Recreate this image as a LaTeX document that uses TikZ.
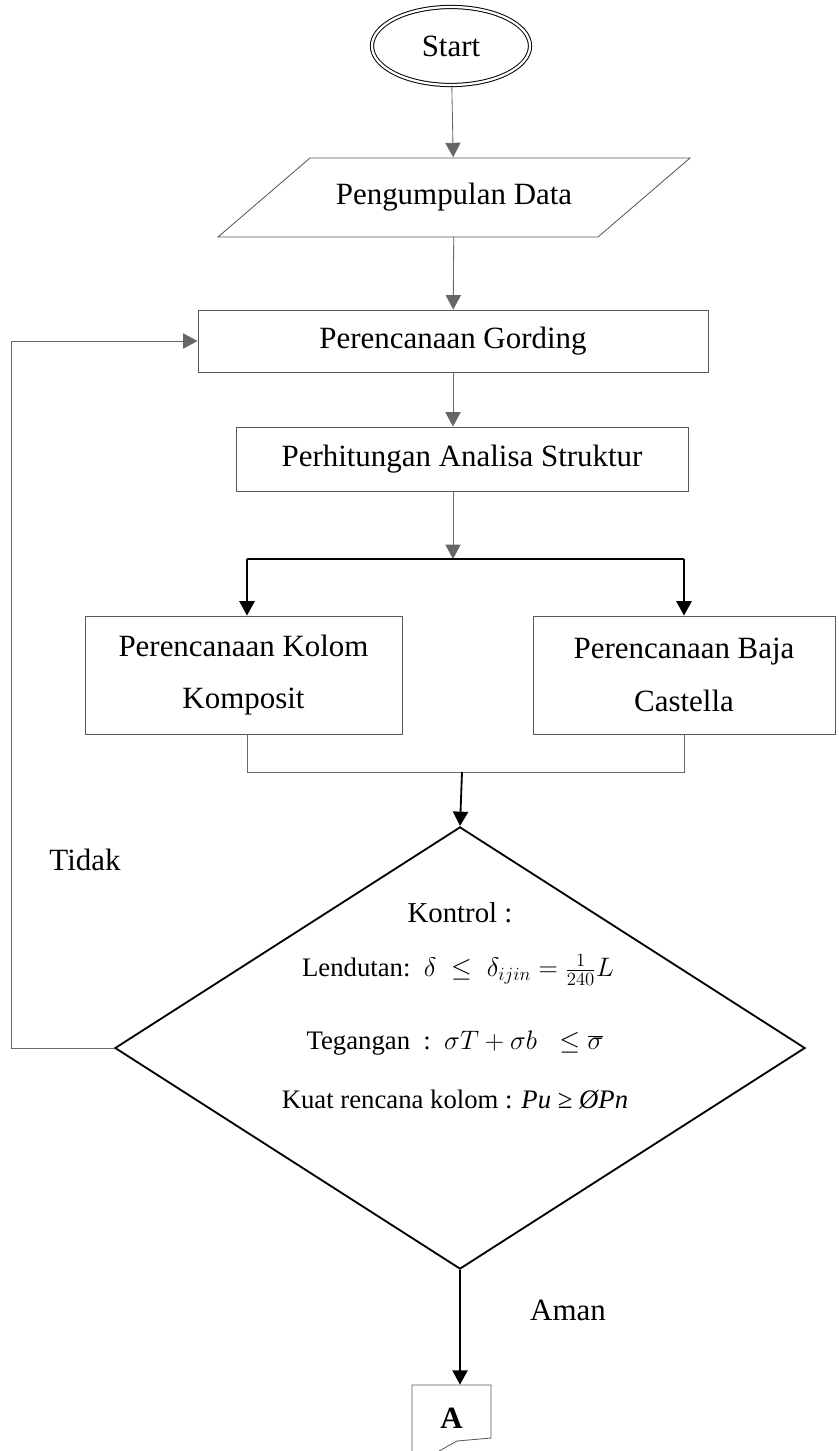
\RequirePackage{fix-cm}
\documentclass[tikz,border=0pt]{standalone}
\usepackage{fontspec}
\setmainfont{Liberation Serif}
\usetikzlibrary{shapes.geometric,arrows.meta}

\begin{document}
\begin{tikzpicture}[
    x=0.025cm, y=-0.025cm,
    every node/.style={font=\fontsize{22}{26}\selectfont},
    box/.style={draw=black!65, line width=0.6pt, rectangle, inner sep=0pt, align=center},
    formula/.style={font=\fontsize{19}{23}\selectfont, inner sep=0pt},
    thinline/.style={draw=black!60, line width=0.6pt, -{Triangle[length=0.36cm,width=0.38cm]}},
    thickline/.style={draw=black, line width=1.3pt, -{Triangle[length=0.36cm,width=0.38cm]}},
    joinline/.style={draw=black!60, line width=0.6pt}
]

% Page frame
\useasboundingbox (0,0) rectangle (838,1451);

% Start terminal
\node[draw, ellipse, double, double distance=1.6pt, line width=0.7pt,
      minimum width=3.95cm, minimum height=1.95cm] (start) at (451,46) {Start};

% Input: data collection (parallelogram)
\node[inner sep=0pt, minimum height=1.975cm] (data) at (454,197) {Pengumpulan Data};
\draw[black!65, line width=0.6pt] (218,237) -- (310,158) -- (690,158) -- (598,237) -- cycle;

% Process boxes
\node[box, minimum width=12.75cm, minimum height=1.55cm] (gording) at (453,341) {Perencanaan Gording};
\node[box, minimum width=11.3cm, minimum height=1.6cm] (analisa) at (462,459) {Perhitungan Analisa Struktur};

\node[box, minimum width=7.925cm, minimum height=2.95cm,
      font=\fontsize{22}{37.5}\selectfont] (kolom) at (243.5,675) {Perencanaan Kolom\\Komposit};
\node[box, minimum width=7.55cm, minimum height=2.95cm,
      font=\fontsize{22}{37.5}\selectfont] (castella) at (684,675) {Perencanaan Baja\\Castella};

% Decision
\node[draw, diamond, line width=1.3pt, minimum width=17.25cm, minimum height=11.05cm,
      inner sep=0pt] (kontrol) at (460,1048) {};
\node[font=\fontsize{20.5}{24}\selectfont, inner sep=0pt] (judul) at (460,913) {Kontrol :};
\node[formula] (lendutan) at (458,970) {Lendutan:\ \ $\delta\;\leq\;\delta_{ijin} = \frac{1}{240}L$};
\node[formula] (tegangan) at (455,1043) {Tegangan\ \ :\ \ $\sigma T + \sigma b\;\;\leq \overline{\sigma}$};
\node[formula] (kuat) at (455,1100) {Kuat rencana kolom : \textit{Pu} ≥ \textit{ØPn}};

% Off-page connector
\node[inner sep=0pt, minimum height=1.65cm, font=\fontsize{22}{26}\selectfont\bfseries] (A) at (451.5,1418) {A};
\draw[black!65, line width=0.6pt] (412,1460) -- (412,1385) -- (491,1385) -- (491,1438) -- (457,1441) -- (432,1455);

% Labels
\node (tidak) at (85,860) {Tidak};
\node (aman) at (568,1310) {Aman};

% Branch points
\coordinate (branch) at (453,559);
\coordinate (bl) at (247,559);
\coordinate (br) at (684,559);
\coordinate (jl) at (247,772);
\coordinate (jr) at (684,772);
\coordinate (jm) at (462,772);

% Connectors
\draw[thinline] (start) -- (data);
\draw[thinline] (data) -- (gording);
\draw[thinline] (gording) -- (gording |- analisa.north);
\draw[thinline] (analisa.south -| branch) -- (branch);
\draw[black, line width=1pt] (bl) -- (br);
\draw[thickline] (bl) -- (bl |- kolom.north);
\draw[thickline] (br) -- (br |- castella.north);
\draw[joinline] (bl |- kolom.south) -- (jl) -- (jr) -- (br |- castella.south);
\draw[thickline] (jm) -- (kontrol.north);
\draw[thickline] (kontrol.south) -- (kontrol.south |- A.north);
\draw[thinline] (kontrol.west) -- ++(-103,0) |- (gording.west);

\end{tikzpicture}
\end{document}
